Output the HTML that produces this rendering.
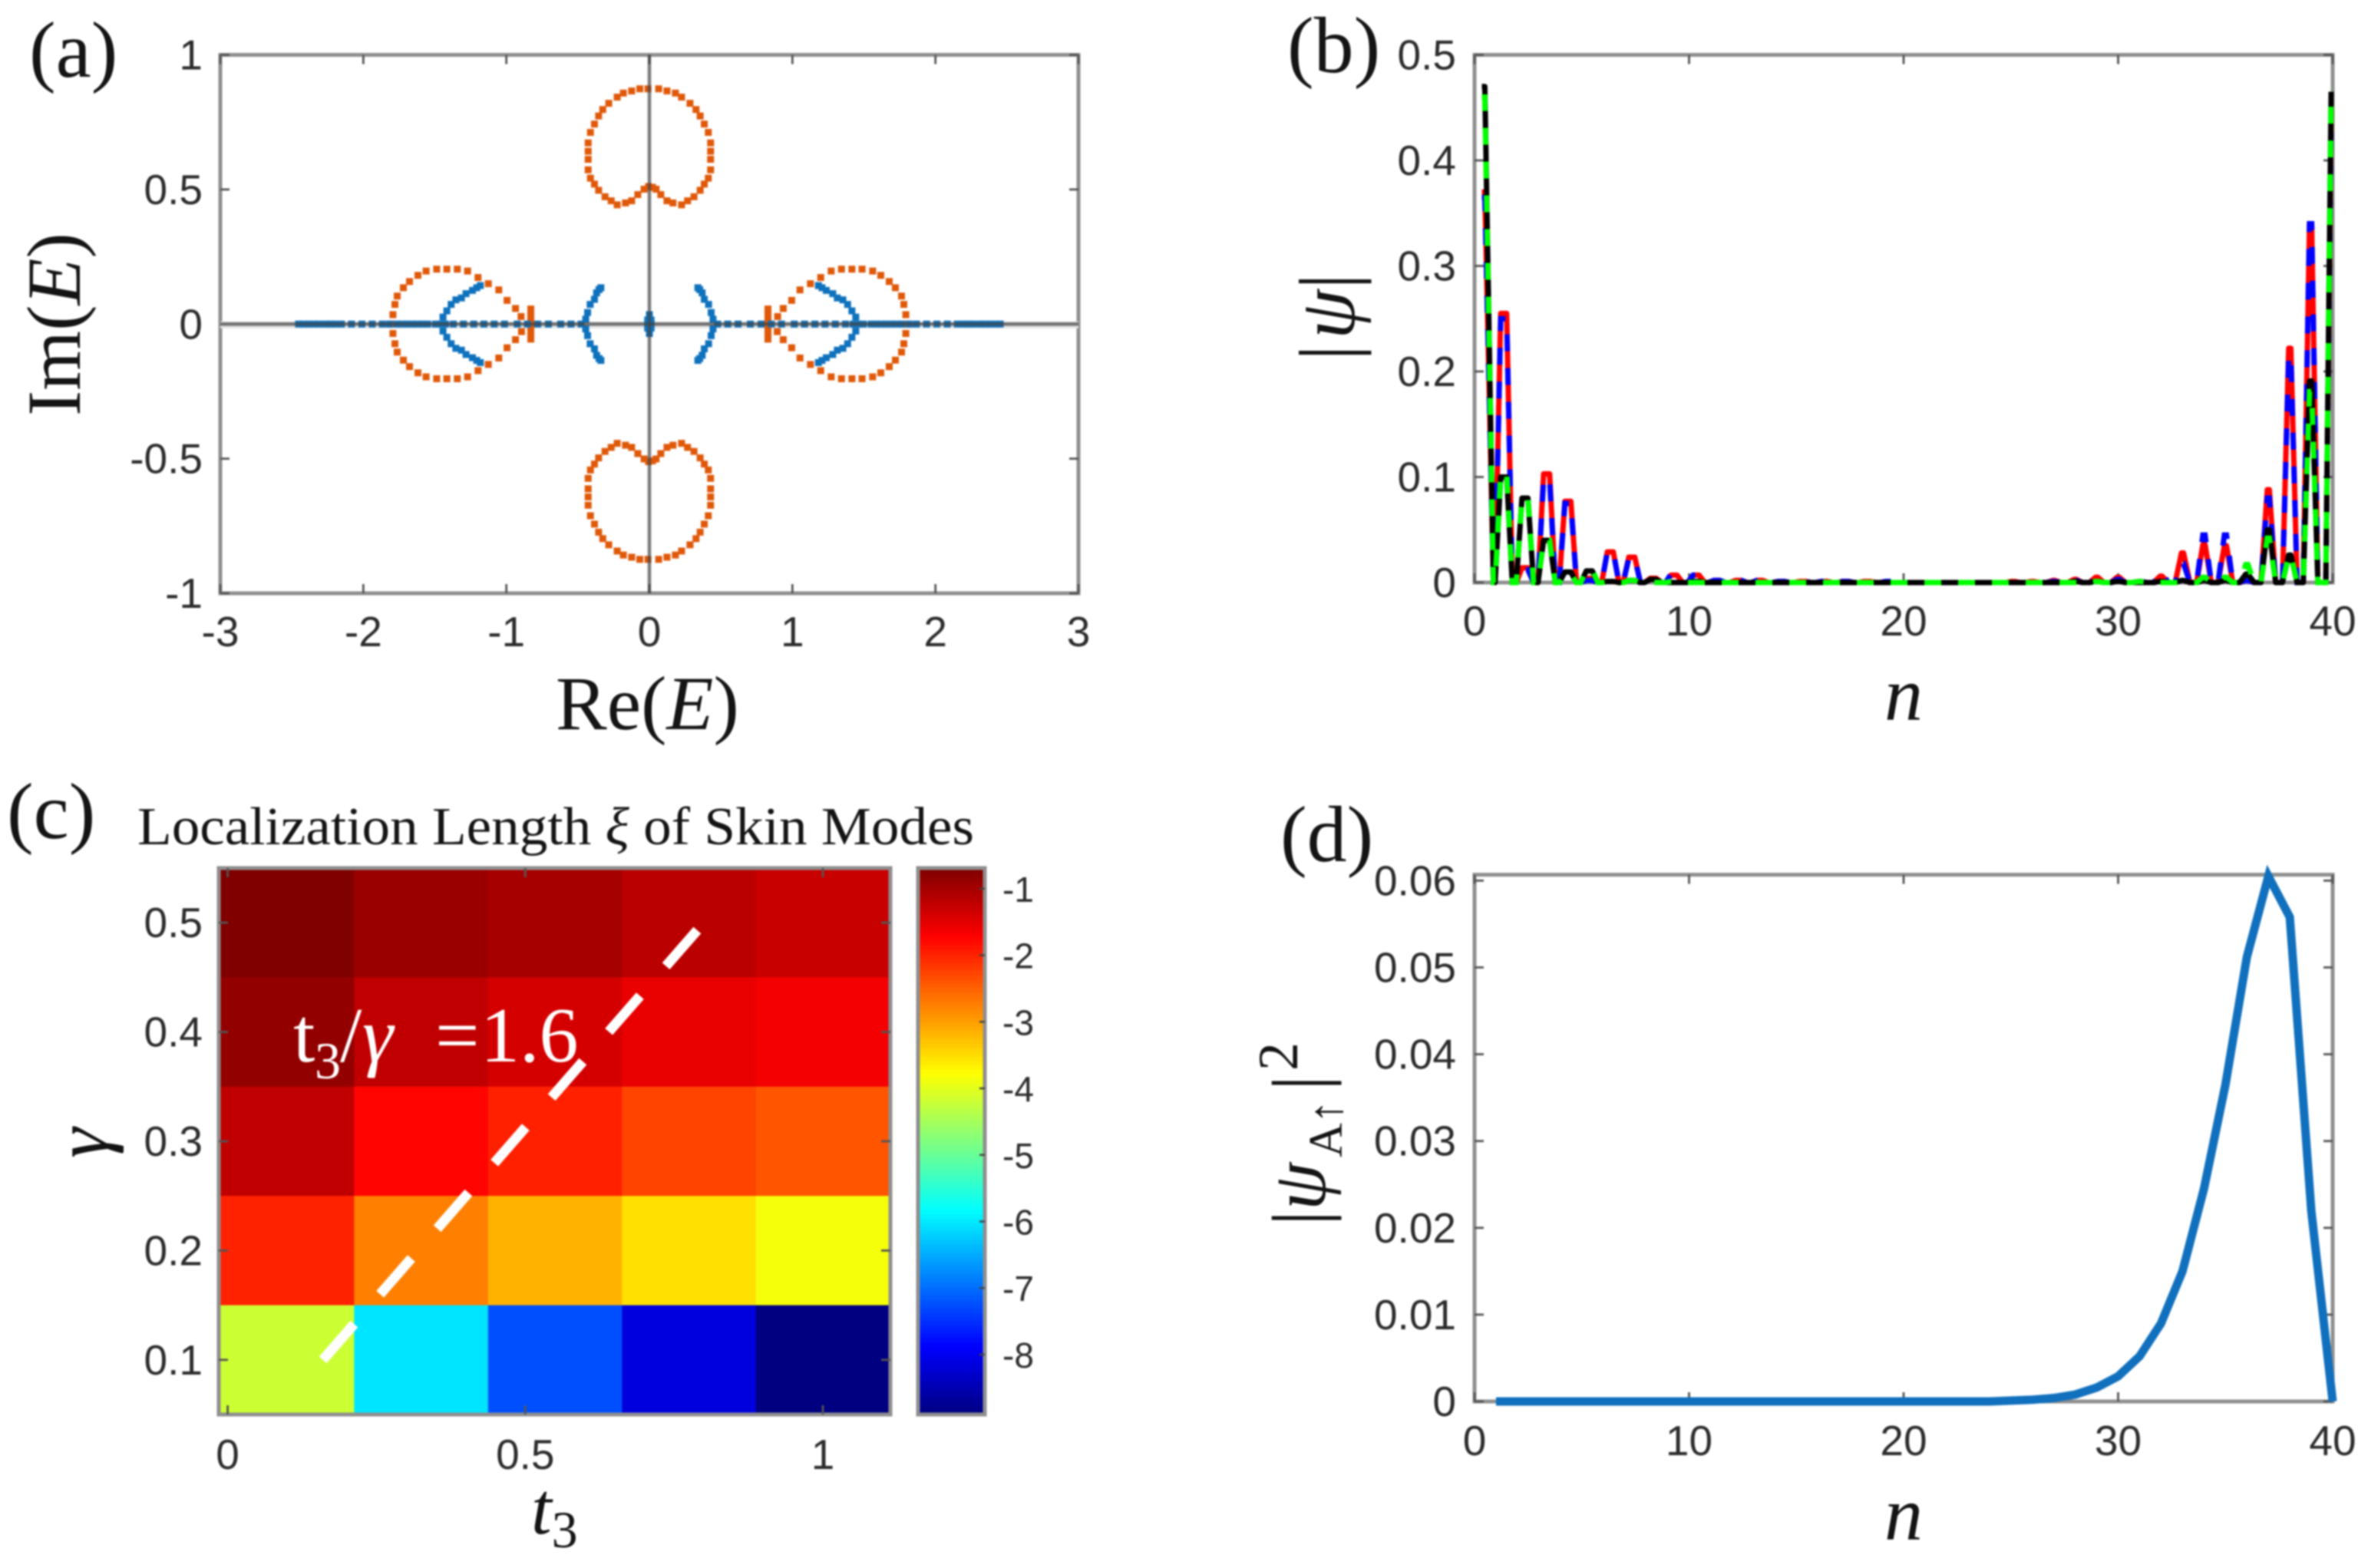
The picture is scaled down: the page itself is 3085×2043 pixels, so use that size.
<!DOCTYPE html>
<html lang="en">
<head>
<meta charset="utf-8">
<title>Skin modes figure</title>
<style>
html,body{margin:0;padding:0;background:#fff;}
svg{display:block;position:absolute;left:0;top:0;filter:blur(1.1px);}
text{font-family:"Liberation Sans",sans-serif;fill:#2b2b2b;}
.serif{font-family:"Liberation Serif",serif;fill:#141414;}
.it{font-style:italic;}
</style>
</head>
<body>
<svg id="fig" xmlns="http://www.w3.org/2000/svg" width="3085" height="2043" viewBox="0 0 3085 2043">
  <rect x="0" y="0" width="3085" height="2043" fill="#fff"/>
  <g id="panelA"></g>
  <g id="panelB"></g>
  <g id="panelC"></g>
  <g id="panelD"></g>

  <text class="serif" x="38" y="100" font-size="104">(a)</text>
  <text class="serif" x="1677" y="94" font-size="104">(b)</text>
  <text class="serif" x="9" y="1092" font-size="104">(c)</text>
  <text class="serif" x="1668" y="1122" font-size="104">(d)</text>

  <text class="serif" x="724" y="950" font-size="100">Re(<tspan class="it">E</tspan>)</text>
  <text class="serif" transform="translate(104,542) rotate(-90)" font-size="100">Im(<tspan class="it">E</tspan>)</text>

  <text class="serif it" x="2455" y="938" font-size="100">n</text>
  <text class="serif" transform="translate(1764,470) rotate(-90)" font-size="104"><tspan x="0">|</tspan><tspan class="it" x="28">ψ</tspan><tspan x="93">|</tspan></text>

  <text class="serif" x="179" y="1100" font-size="70" textLength="1090" lengthAdjust="spacingAndGlyphs">Localization Length <tspan class="it">ξ</tspan> of Skin Modes</text>
  <text class="serif it" x="692" y="1998" font-size="96">t<tspan font-style="normal" font-size="68" dy="18">3</tspan></text>
  <text class="serif it" transform="translate(140,1509) rotate(-90)" font-size="100">γ</text>

  <text class="serif it" x="2455" y="2006" font-size="100">n</text>
  <text class="serif" transform="translate(1726,1597) rotate(-90)" font-size="100"><tspan x="0" y="0">|</tspan><tspan class="it" x="20" y="0">ψ</tspan><tspan font-size="62" x="89" y="22">A</tspan><tspan font-size="62" x="133" y="22">↑</tspan><tspan x="176" y="0">|</tspan><tspan font-size="74" x="202" y="-36">2</tspan></text>
</svg>
<script>
/* ---------- Panel (a) data: [Re, Im] ---------- */
const heartUpper=[[-.067,.874],[-.010,.874],[.065,.874],[.123,.866],[.182,.858],[.225,.843],[.284,.820],[.326,.797],[.355,.773],[.384,.743],[.412,.712],[.428,.673],[.428,.642],[.428,.612],[.428,.573],[.412,.542],[.384,.520],[.355,.497],[.312,.473],[.267,.458],[.225,.443],[.165,.450],[.123,.458],[.080,.481],[.047,.501],[.022,.508],[-.006,.511],[-.037,.501],[-.081,.481],[-.124,.458],[-.167,.450],[-.225,.443],[-.267,.458],[-.310,.473],[-.355,.497],[-.384,.520],[-.412,.542],[-.428,.573],[-.428,.612],[-.428,.642],[-.428,.673],[-.412,.712],[-.384,.743],[-.355,.773],[-.326,.797],[-.284,.820],[-.225,.843],[-.182,.858],[-.124,.866]];
const heartLower=[[-.067,-.874],[-.010,-.874],[.065,-.874],[.123,-.866],[.182,-.858],[.225,-.843],[.284,-.820],[.326,-.797],[.355,-.773],[.384,-.743],[.412,-.712],[.428,-.673],[.428,-.642],[.428,-.612],[.428,-.573],[.412,-.542],[.384,-.520],[.355,-.497],[.312,-.473],[.267,-.458],[.225,-.443],[.165,-.450],[.123,-.458],[.080,-.481],[.047,-.501],[.022,-.508],[-.006,-.511],[-.037,-.501],[-.081,-.481],[-.124,-.458],[-.167,-.450],[-.225,-.443],[-.267,-.458],[-.310,-.473],[-.355,-.497],[-.384,-.520],[-.412,-.542],[-.428,-.573],[-.428,-.612],[-.428,-.642],[-.428,-.673],[-.412,-.712],[-.384,-.743],[-.355,-.773],[-.326,-.797],[-.284,-.820],[-.225,-.843],[-.182,-.858],[-.124,-.866]];
const lobeLeft=[[-.897,.028],[-.936,.058],[-.995,.088],[-1.053,.127],[-1.126,.150],[-1.198,.173],[-1.271,.197],[-1.343,.204],[-1.416,.204],[-1.487,.204],[-1.561,.197],[-1.618,.181],[-1.677,.158],[-1.720,.135],[-1.763,.104],[-1.779,.073],[-1.793,.035],[-1.806,0],[-1.793,-.035],[-1.779,-.073],[-1.763,-.104],[-1.720,-.134],[-1.677,-.158],[-1.618,-.181],[-1.561,-.196],[-1.487,-.203],[-1.416,-.203],[-1.343,-.203],[-1.271,-.196],[-1.198,-.173],[-1.126,-.150],[-1.053,-.126],[-.995,-.088],[-.936,-.058],[-.894,-.028]];
const lobeRight=[[.897,.028],[.936,.058],[.995,.088],[1.053,.127],[1.126,.150],[1.198,.173],[1.271,.197],[1.343,.204],[1.416,.204],[1.487,.204],[1.561,.197],[1.618,.181],[1.677,.158],[1.720,.135],[1.763,.104],[1.779,.073],[1.793,.035],[1.806,0],[1.793,-.035],[1.779,-.073],[1.763,-.104],[1.720,-.134],[1.677,-.158],[1.618,-.181],[1.561,-.196],[1.487,-.203],[1.416,-.203],[1.343,-.203],[1.271,-.196],[1.198,-.173],[1.126,-.150],[1.053,-.126],[.995,-.088],[.936,-.058],[.894,-.028]];
const barLeft=[[-.829,.056],[-.829,.042],[-.829,.028],[-.829,.014],[-.829,0],[-.829,-.014],[-.829,-.028],[-.829,-.042],[-.829,-.056]];
const barRight=[[.829,.056],[.829,.042],[.829,.028],[.829,.014],[.829,0],[.829,-.014],[.829,-.028],[.829,-.042],[.829,-.056]];
const blueAxisLeft=[[-2.453,0],[-2.418,0],[-2.382,0],[-2.346,0],[-2.31,0],[-2.262,0],[-2.23,0],[-2.198,0],[-2.153,0],[-2.083,0],[-2.01,0],[-1.938,0],[-1.867,0],[-1.818,0],[-1.765,0],[-1.729,0],[-1.693,0],[-1.657,0],[-1.622,0],[-1.586,0],[-1.55,0],[-1.496,0],[-1.46,0],[-1.425,0],[-1.371,0],[-1.3,0],[-1.228,0],[-1.157,0],[-1.085,0],[-1.013,0],[-.924,0],[-.852,0],[-.781,0],[-.706,0],[-.62,0],[-.548,0],[-.477,0]];
const blueAxisRight=[[2.453,0],[2.418,0],[2.382,0],[2.346,0],[2.31,0],[2.262,0],[2.23,0],[2.198,0],[2.153,0],[2.083,0],[2.01,0],[1.938,0],[1.867,0],[1.818,0],[1.765,0],[1.729,0],[1.693,0],[1.657,0],[1.622,0],[1.586,0],[1.55,0],[1.496,0],[1.46,0],[1.425,0],[1.371,0],[1.3,0],[1.228,0],[1.157,0],[1.085,0],[1.013,0],[.924,0],[.852,0],[.781,0],[.706,0],[.62,0],[.548,0],[.477,0]];
const blueOuterLeft=[[-1.443,.026],[-1.416,.049],[-1.386,.073],[-1.353,.090],[-1.314,.097],[-1.282,.113],[-1.237,.125],[-1.207,.135],[-1.182,.143],[-1.443,-.026],[-1.416,-.049],[-1.386,-.073],[-1.353,-.090],[-1.314,-.097],[-1.282,-.113],[-1.237,-.125],[-1.207,-.135],[-1.182,-.143]];
const blueOuterRight=[[1.443,.026],[1.416,.049],[1.386,.073],[1.353,.090],[1.314,.097],[1.282,.113],[1.237,.125],[1.207,.135],[1.182,.143],[1.443,-.026],[1.416,-.049],[1.386,-.073],[1.353,-.090],[1.314,-.097],[1.282,-.113],[1.237,-.125],[1.207,-.135],[1.182,-.143]];
const blueInnerLeft=[[-.445,.018],[-.432,.043],[-.414,.073],[-.384,.092],[-.369,.116],[-.352,.128],[-.339,.135],[-.445,-.018],[-.432,-.043],[-.414,-.073],[-.384,-.092],[-.369,-.116],[-.352,-.128],[-.339,-.135]];
const blueInnerRight=[[.445,.018],[.432,.043],[.414,.073],[.384,.092],[.369,.116],[.352,.128],[.339,.135],[.445,-.018],[.432,-.043],[.414,-.073],[.384,-.092],[.369,-.116],[.352,-.128],[.339,-.135]];
const blueCenter=[[0,.035],[0,.025],[0,.012],[0,0],[0,-.012],[0,-.025],[0,-.035],[-.012,.015],[-.012,0],[-.012,-.015],[.012,.015],[.012,0],[.012,-.015]];
const aXTicks=[-3,-2,-1,0,1,2,3];
const aYTicks=[-1,-0.5,0,0.5,1];

/* ---------- Panel (b) data, one entry per site ---------- */
const sitePos=[0.43,1.36,2.35,3.36,4.35,5.35,6.33,7.33,8.33,9.3,10.33,11.3,12.3,13.3,14.3,15.3,16.3,17.3,18.3,19.3,20.3,21.2,22.2,23.1,24.1,25.1,26,27,28,29,30,31,32,33,34,35,36,37,38,38.97,39.93];
const psiRed=[.37,.255,.014,.103,.077,.004,.029,.024,.004,.007,.007,.002,.002,.002,.001,.001,.001,.001,.001,0,0,0,0,0,0,.001,.001,.002,.003,.005,.005,.001,.006,.028,.036,.035,.002,.088,.222,.34,.45];
const psiBlue=[.365,.25,.012,.098,.075,.002,.029,.023,.002,.008,.007,.002,.002,.002,.001,.001,.001,.001,.001,.001,0,0,0,0,0,0,.001,.001,.002,.003,.003,.001,.009,.018,.045,.045,.002,.08,.215,.34,.44];
const psiBlack=[.47,.10,.08,.04,.01,.011,.001,.002,.003,0,.001,0,0,0,0,0,0,0,0,0,0,0,0,0,0,0,0,0,.001,.001,.001,0,.001,.002,.002,.002,.008,.05,.026,.191,.465];
const psiGreen=[.46,.103,.08,.04,.008,.012,.001,.002,0,.001,0,0,0,0,0,0,0,0,0,0,0,0,0,0,0,0,0,0,0,.001,0,.001,0,0,.005,.005,.017,.042,.026,.181,.467];
const bXTicks=[0,10,20,30,40];
const bYTicks=[0,0.1,0.2,0.3,0.4,0.5];

/* ---------- Panel (c) data ---------- */
const t3Values=[0.1,0.325,0.55,0.775,1];
const gammaValues=[0.5,0.4,0.3,0.2,0.1];
const xiRow05=[-0.69,-0.90,-1.01,-1.17,-1.27];
const xiRow04=[-0.85,-1.21,-1.37,-1.54,-1.63];
const xiRow03=[-1.21,-1.75,-1.97,-2.26,-2.40];
const xiRow02=[-1.99,-2.74,-3.15,-3.52,-3.85];
const xiRow01=[-4.18,-6.03,-7.24,-8.14,-8.90];
const cXTicks=[0,0.5,1];
const cYTicks=[0.1,0.2,0.3,0.4,0.5];
const cbTicks=[-1,-2,-3,-4,-5,-6,-7,-8];
const ratioLine=1.6;
const ratioGamma=[0.1,0.4935];

/* ---------- Panel (d) data ---------- */
const dN=[1,2,3,4,5,6,7,8,9,10,11,12,13,14,15,16,17,18,19,20,21,22,23,24,25,26,27,28,29,30,31,32,33,34,35,36,37,38,39,40];
const dPsi=[0,0,0,0,0,0,0,0,0,0,0,0,0,0,0,0,0,0,0,0,0,0,0,0,.0001,.0002,.0004,.0008,.0016,.0029,.0052,.009,.015,.0245,.0365,.0512,.0605,.0558,.022,0];
const dXTicks=[0,10,20,30,40];
const dYTicks=[0,0.01,0.02,0.03,0.04,0.05,0.06];

/* ---------- Helpers ---------- */
const NS='http://www.w3.org/2000/svg';
function mk(parent,tag,attrs,txt){
  const el=document.createElementNS(NS,tag);
  for(const k in attrs)el.setAttribute(k,attrs[k]);
  if(txt!==undefined)el.textContent=txt;
  parent.appendChild(el);
  return el;
}
function scale(d0,d1,p0,p1){return v=>p0+(v-d0)*(p1-p0)/(d1-d0);}
function drawBox(g,l,t,r,b){
  const el=mk(g,'rect',{x:l,y:t,width:r-l,height:b-t,fill:'none',stroke:'#8f8f8f','stroke-width':5});
  
  
}
function drawTicks(g,xTicks,yTicks,X,Y,box,fs,xBase,yRight){
  xTicks.forEach(v=>{
    const px=X(v);
    const tb=mk(g,'line',{x1:px,x2:px,y1:box.b,y2:box.b-12,stroke:'#555','stroke-width':2.8});
    
    
    const tt=mk(g,'line',{x1:px,x2:px,y1:box.t,y2:box.t+12,stroke:'#555','stroke-width':2.8});
    
    
    const lb=mk(g,'text',{x:px,y:xBase,'font-size':fs,'text-anchor':'middle'},String(v));
    
    
  });
  yTicks.forEach(v=>{
    const py=Y(v);
    const tl=mk(g,'line',{x1:box.l,x2:box.l+12,y1:py,y2:py,stroke:'#555','stroke-width':2.8});
    
    
    const tr=mk(g,'line',{x1:box.r,x2:box.r-12,y1:py,y2:py,stroke:'#555','stroke-width':2.8});
    
    
    const lb=mk(g,'text',{x:yRight,y:py+19,'font-size':fs,'text-anchor':'end'},String(v));
    
    
  });
}

/* ---------- Panel (a) ---------- */
(function(){
  const g=document.getElementById('panelA');
  const box={l:287,r:1405,t:71.5,b:773};
  const X=scale(-3,3,box.l,box.r), Y=scale(-1,1,box.b,box.t);
  drawBox(g,box.l,box.t,box.r,box.b);
  drawTicks(g,aXTicks,aYTicks,X,Y,box,55,842,264);
  const bandH=mk(g,'line',{x1:box.l,x2:box.r,y1:Y(0)+1,y2:Y(0)+1,stroke:'#e2e2e2','stroke-width':9});
  
  
  function dots(pts,color,name){
    const s=mk(g,'g',{fill:color});
    
    
    pts.forEach(p=>{
      const r=mk(s,'rect',{x:X(p[0])-4.5,y:Y(p[1])-4.5,width:9,height:9});
      
      
    });
  }
  const orange='#e0590a', blue='#0f72bd';
  dots(heartUpper,orange,'obc-heart-upper');
  dots(heartLower,orange,'obc-heart-lower');
  dots(lobeLeft,orange,'obc-lobe-left');
  dots(lobeRight,orange,'obc-lobe-right');
  dots(barLeft,orange,'obc-bar-left');
  dots(barRight,orange,'obc-bar-right');
  dots(blueAxisLeft,blue,'pbc-axis-left');
  dots(blueAxisRight,blue,'pbc-axis-right');
  dots(blueOuterLeft,blue,'pbc-outer-left');
  dots(blueOuterRight,blue,'pbc-outer-right');
  dots(blueInnerLeft,blue,'pbc-inner-left');
  dots(blueInnerRight,blue,'pbc-inner-right');
  dots(blueCenter,blue,'pbc-center');
  const v0=mk(g,'line',{x1:X(0),x2:X(0),y1:box.t,y2:box.b,stroke:'#444','stroke-width':4.5,'stroke-opacity':.7});
  
  
  const h0=mk(g,'line',{x1:box.l,x2:box.r,y1:Y(0),y2:Y(0),stroke:'#444','stroke-width':4.5,'stroke-opacity':.7});
  
  
})();

/* ---------- Panel (b) ---------- */
(function(){
  const g=document.getElementById('panelB');
  const box={l:1921,r:3039,t:71.5,b:759};
  const X=scale(0,40,box.l,box.r), Y=scale(0,0.5,box.b,box.t);
  drawBox(g,box.l,box.t,box.r,box.b);
  drawTicks(g,bXTicks,bYTicks,X,Y,box,55,828,1897);
  function curve(vals){
    const pts=[];
    vals.forEach((v,i)=>{
      const n=sitePos[i];
      if(i===0){pts.push([n-.09,v],[n+.05,v],[n+.45,0]);}
      else if(i===vals.length-1){pts.push([n-.25,0],[n,v]);}
      else if(n<20){pts.push([n-.4,0],[n-.14,v],[n+.14,v],[n+.4,0]);}
      else{pts.push([n-.34,0],[n-.05,v],[n+.05,v],[n+.34,0]);}
    });
    return pts.map(p=>X(p[0]).toFixed(1)+','+Y(p[1]).toFixed(1)).join(' ');
  }
  const c1=mk(g,'polyline',{points:curve(psiRed),fill:'none',stroke:'#ff0000','stroke-width':7,'stroke-linejoin':'round'});
  
  
  const c2=mk(g,'polyline',{points:curve(psiBlue),fill:'none',stroke:'#0000ff','stroke-width':7,'stroke-dasharray':'22 22'});
  
  
  const c3=mk(g,'polyline',{points:curve(psiBlack),fill:'none',stroke:'#000','stroke-width':7,'stroke-linejoin':'round'});
  
  
  const c4=mk(g,'polyline',{points:curve(psiGreen),fill:'none',stroke:'#00ff00','stroke-width':7,'stroke-dasharray':'22 22'});
  
  
})();

/* ---------- Panel (c) ---------- */
(function(){
  const g=document.getElementById('panelC');
  const box={l:285,r:1160,t:1131,b:1843};
  const X=scale(0,1,296.6,1072), Y=scale(0.05,0.55,box.b,box.t);
  const cMin=-8.9,cMax=-0.69;
  function jet(t){
    t=Math.max(0,Math.min(1,t));
    const f=x=>Math.round(255*Math.max(0,Math.min(1,x)));
    const r=f(Math.min(4*t-1.5,-4*t+4.5));
    const gr=f(Math.min(4*t-0.5,-4*t+3.5));
    const b=f(Math.min(4*t+0.5,-4*t+2.5));
    return 'rgb('+r+','+gr+','+b+')';
  }
  const rows=[xiRow05,xiRow04,xiRow03,xiRow02,xiRow01];
  rows.forEach((row,ri)=>{
    row.forEach((v,ci)=>{
      const x0=ci===0?box.l:X(t3Values[ci]-0.1125);
      const x1=ci===row.length-1?box.r:X(t3Values[ci]+0.1125);
      const y0=Y(gammaValues[ri]+0.05), y1=Y(gammaValues[ri]-0.05);
      const cell=mk(g,'rect',{x:x0,y:y0,width:x1-x0+.5,height:y1-y0+.5,fill:jet((v-cMin)/(cMax-cMin))});
      
      
    });
  });
  drawBox(g,box.l,box.t,box.r,box.b);
  drawTicks(g,cXTicks,cYTicks,X,Y,box,55,1914,264);
  const dash=mk(g,'line',{x1:X(ratioLine*ratioGamma[0]),y1:Y(ratioGamma[0]),x2:X(ratioLine*ratioGamma[1]),y2:Y(ratioGamma[1]),stroke:'#fff','stroke-width':13,'stroke-dasharray':'62 51.4'});
  
  
  const lab=mk(g,'text',{x:382,y:1383,'font-size':102,style:'fill:#fff;font-family:"Liberation Serif",serif'});
  
  
  mk(lab,'tspan',{x:382,y:1383},'t');
  mk(lab,'tspan',{x:410,y:1405,'font-size':68},'3');
  mk(lab,'tspan',{x:443,y:1383},'/');
  mk(lab,'tspan',{x:472,y:1383,'font-style':'italic'},'γ');
  mk(lab,'tspan',{x:567,y:1383},'=');
  mk(lab,'tspan',{x:626,y:1383},'1.6');

  const cb={l:1196,r:1283,t:1131,b:1843};
  const C=scale(cMin,cMax,cb.b,cb.t);
  const steps=128;
  for(let i=0;i<steps;i++){
    const t=(i+.5)/steps;
    const y1=cb.b-(cb.b-cb.t)*i/steps, y0=cb.b-(cb.b-cb.t)*(i+1)/steps;
    const s=mk(g,'rect',{x:cb.l,y:y0,width:cb.r-cb.l,height:y1-y0+.8,fill:jet(t)});
    
    
  }
  drawBox(g,cb.l,cb.t,cb.r,cb.b);
  cbTicks.forEach(v=>{
    const py=C(v);
    const t=mk(g,'line',{x1:cb.r,x2:cb.r-7,y1:py,y2:py,stroke:'#444','stroke-width':2.5});
    
    
    const l=mk(g,'text',{x:1306,y:py+17,'font-size':46},String(v));
    
    
  });
})();

/* ---------- Panel (d) ---------- */
(function(){
  const g=document.getElementById('panelD');
  const box={l:1921,r:3039,t:1139.7,b:1826};
  const X=scale(0,40,box.l,box.r), Y=scale(0,0.01,box.b,1826-113.1);
  drawBox(g,box.l,box.t,box.r,box.b);
  drawTicks(g,dXTicks,dYTicks,X,Y,box,55,1896,1897);
  const pts=dN.map((n,i)=>X(n).toFixed(1)+','+Y(dPsi[i]).toFixed(1)).join(' ');
  const l=mk(g,'polyline',{points:pts,fill:'none',stroke:'#1170bd','stroke-width':11,'stroke-linejoin':'miter'});
  
  
})();
</script>
</body>
</html>
